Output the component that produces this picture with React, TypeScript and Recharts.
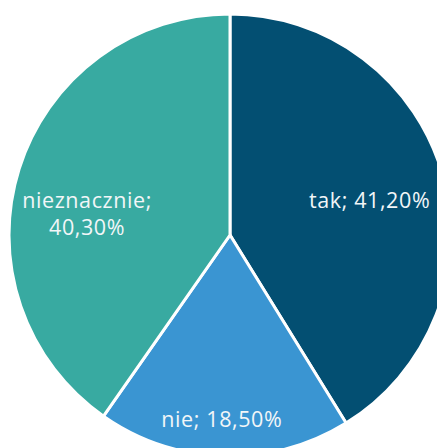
import { PieChart, Pie, Cell } from 'recharts';

const categories = ['tak', 'nie', 'nieznacznie'];
const shares = [41.2, 18.5, 40.3];
const colors = ['#034F72', '#3A95D2', '#38AAA1'];

// label nudges (degrees, radius fraction) to mimic the original placement
const labelAngleShift = [-2.3, -0.9, 9.5];
const labelRadius = [0.65, 0.84, 0.653];

const data = categories.map((name, i) => ({ name, value: shares[i] }));

const fmt = (v: number) => v.toFixed(2).replace('.', ',') + '%';

const RADIAN = Math.PI / 180;

const renderLabel = (props: any) => {
    const { cx, cy, midAngle, outerRadius, index, name, value } = props;
    const angle = (midAngle + labelAngleShift[index]) * RADIAN;
    const r = outerRadius * labelRadius[index];
    const x = cx + r * Math.cos(angle);
    const y = cy - r * Math.sin(angle);
    const style = {
        fill: '#f2f6f8',
        fontSize: 21.5,
        fontWeight: 400,
        letterSpacing: 0.6,
        fontFamily: '"Open Sans", sans-serif',
    };
    if (name === 'nieznacznie') {
        return (
            <text x={x} y={y} textAnchor="middle" style={style}>
                <tspan x={x} dy={-7}>{name};</tspan>
                <tspan x={x} dy={27}>{fmt(value)}</tspan>
            </text>
        );
    }
    return (
        <text x={x} y={y + 7} textAnchor="middle" style={style}>
            {name}; {fmt(value)}
        </text>
    );
};

const App = () => {
    return (
        <div style={{ width: 437, height: 440, overflow: 'hidden' }}>
            <PieChart width={437} height={440} margin={{ top: 0, right: 0, bottom: 0, left: 0 }}>
                <Pie
                    data={data}
                    dataKey="value"
                    nameKey="name"
                    cx={222}
                    cy={227}
                    outerRadius={221}
                    startAngle={90}
                    endAngle={-270}
                    stroke="#ffffff"
                    strokeWidth={3}
                    label={renderLabel}
                    labelLine={false}
                    isAnimationActive={false}
                >
                    {data.map((d, i) => (
                        <Cell key={d.name} fill={colors[i]} />
                    ))}
                </Pie>
            </PieChart>
        </div>
    );
};

export default App;
